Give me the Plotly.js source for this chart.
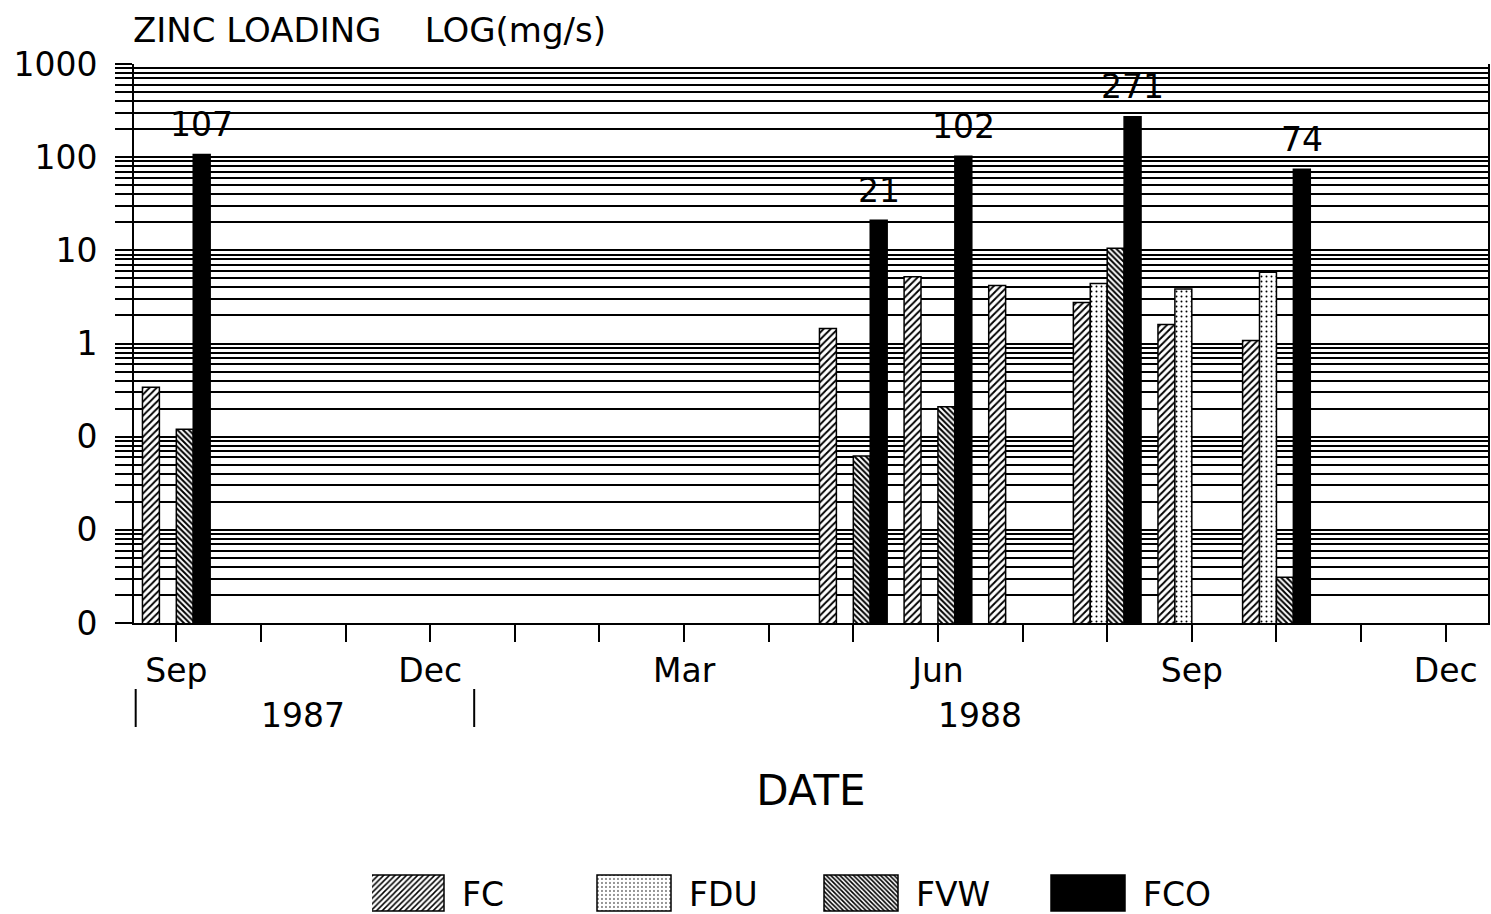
<!DOCTYPE html>
<html>
<head>
<meta charset="utf-8">
<script src="https://cdn.plot.ly/plotly-3.0.1.min.js"></script>
<style>html,body{margin:0;padding:0;background:#fff;}#chart{width:1491px;height:914px;}</style>
</head>
<body>
<div id="chart"></div>
<script>
// ---- data ----
const months = ['Sep 1987','Oct 1987','Nov 1987','Dec 1987','Jan 1988','Feb 1988','Mar 1988','Apr 1988',
                'May 1988','Jun 1988','Jul 1988','Aug 1988','Sep 1988','Oct 1988','Nov 1988','Dec 1988'];
const monthTickText = ['Sep','','','Dec','','','Mar','','','Jun','','','Sep','','','Dec'];
const sampleMonths = ['Sep 1987','May 1988','Jun 1988','Jul 1988','Aug 1988','Sep 1988','Oct 1988'];
const FC  = [0.34, 1.45, 5.2, 4.2, 2.75, 1.6, 1.08];
const FDU = [null, null, null, null, 4.4, 3.85, 5.8];
const FVW = [0.12, 0.062, 0.21, null, 10.5, null, 0.0031];
const FCO = [107, 21, 102, null, 271, null, 74];
const yMajorVals = [0.001, 0.01, 0.1, 1, 10, 100, 1000];
const yMajorLabels = ['0', '0', '0', '1', '10', '100', '1000'];
const years = ['1987', '1988'];

// ---- helpers ----
const FONT = 'DejaVu Sans, Verdana, sans-serif';
const yTickVals = [], yTickText = [];
for (let i = 0; i < yMajorVals.length; i++) {
  yTickVals.push(yMajorVals[i]); yTickText.push(yMajorLabels[i]);
  if (i < yMajorVals.length - 1) {
    for (let m = 2; m <= 9; m++) { yTickVals.push(yMajorVals[i] * m); yTickText.push(''); }
  }
}

function pat(shape, size, solidity) {
  return {shape: shape, fgcolor: '#000', bgcolor: '#fff', size: size, solidity: solidity, fillmode: 'replace'};
}
const line = {color: '#000', width: 1.5};
const traces = [
  {name: 'FC',  y: FC,  marker: {color: '#fff', line: line, pattern: pat('/', 5, 0.38)}},
  {name: 'FDU', y: FDU, marker: {color: '#fff', line: line, pattern: pat('.', 5, 0.12)}},
  {name: 'FVW', y: FVW, marker: {color: '#fff', line: line, pattern: pat('\\', 4, 0.5)}},
  {name: 'FCO', y: FCO, marker: {color: '#000', line: line}}
].map(t => Object.assign({type: 'bar', x: sampleMonths, hoverinfo: 'x+y+name'}, t));

// value labels above FCO bars (FCO is 4th of 4 bars in each group)
const annotations = [];
FCO.forEach((v, i) => {
  if (v == null) return;
  annotations.push({xref: 'x', yref: 'y', x: months.indexOf(sampleMonths[i]) + 0.3, y: Math.log10(v),
    text: String(v), showarrow: false, yanchor: 'middle', yshift: 30,
    font: {family: FONT, size: 33, color: '#000'}});
});
// year labels and separators
const shapes = [];
years.forEach(yr => {
  const idx = months.map((m, i) => m.endsWith(yr) ? i : -1).filter(i => i >= 0);
  const a = idx[0] - 0.5, b = idx[idx.length - 1] + 0.5;
  annotations.push({xref: 'x', yref: 'paper', x: (a + b) / 2, y: 0, yshift: -92, yanchor: 'middle',
    text: yr, showarrow: false, font: {family: FONT, size: 33, color: '#000'}});
  shapes.push({type: 'line', xref: 'x', yref: 'paper', ysizemode: 'pixel', yanchor: 0,
    x0: a + 0.02, x1: a + 0.02, y0: -66, y1: -104, line: {color: '#000', width: 2}});
});

const layout = {
  width: 1491, height: 914,
  margin: {l: 134, r: 3, t: 64, b: 291},
  paper_bgcolor: '#fff', plot_bgcolor: '#fff',
  font: {family: FONT, size: 33, color: '#000'},
  barmode: 'group', bargap: 0.2, bargroupgap: 0,
  title: {text: 'ZINC LOADING\u00a0\u00a0\u00a0\u00a0LOG(mg/s)', xref: 'container', x: 133 / 1491, xanchor: 'left',
          yref: 'container', y: 1 - 30 / 914, yanchor: 'middle', font: {family: FONT, size: 34, color: '#000'}},
  xaxis: {type: 'category', categoryorder: 'array', categoryarray: months, range: [-0.5, months.length - 0.5],
          tickmode: 'array', tickvals: months, ticktext: monthTickText,
          ticks: 'outside', ticklen: 17, tickwidth: 2, tickcolor: '#000', ticklabelstandoff: 0,
          showline: true, linecolor: '#000', linewidth: 2, mirror: false, showgrid: false, zeroline: false,
          tickfont: {family: FONT, size: 33, color: '#000'},
          title: {text: 'DATE', standoff: 87, font: {family: FONT, size: 42, color: '#000'}}},
  yaxis: {type: 'log', range: [-3, 3], tickmode: 'array', tickvals: yTickVals, ticktext: yTickText,
          ticks: 'outside', ticklen: 17, tickwidth: 1.6, tickcolor: '#000', ticklabelstandoff: 11,
          showgrid: true, gridcolor: '#000', gridwidth: 1.6,
          showline: true, linecolor: '#000', linewidth: 2, mirror: true, zeroline: false,
          tickfont: {family: FONT, size: 33, color: '#000'}},
  showlegend: true,
  legend: {orientation: 'h', xref: 'container', yref: 'container', x: 372 / 1491, xanchor: 'left',
           y: 1 - 893 / 914, yanchor: 'middle', itemwidth: 80, entrywidth: 132, entrywidthmode: 'pixels',
           font: {family: FONT, size: 33, color: '#000'}, bgcolor: 'rgba(0,0,0,0)', traceorder: 'normal'},
  annotations: annotations,
  shapes: shapes
};

Plotly.newPlot('chart', traces, layout, {displayModeBar: false, responsive: false}).then(gd => {
  // enlarge legend swatches to look like the printed legend boxes
  gd.querySelectorAll('.legend .legendpoints path').forEach(p => {
    p.setAttribute('d', 'M27,18H-47V-18H27Z');
  });
});
</script>
</body>
</html>
